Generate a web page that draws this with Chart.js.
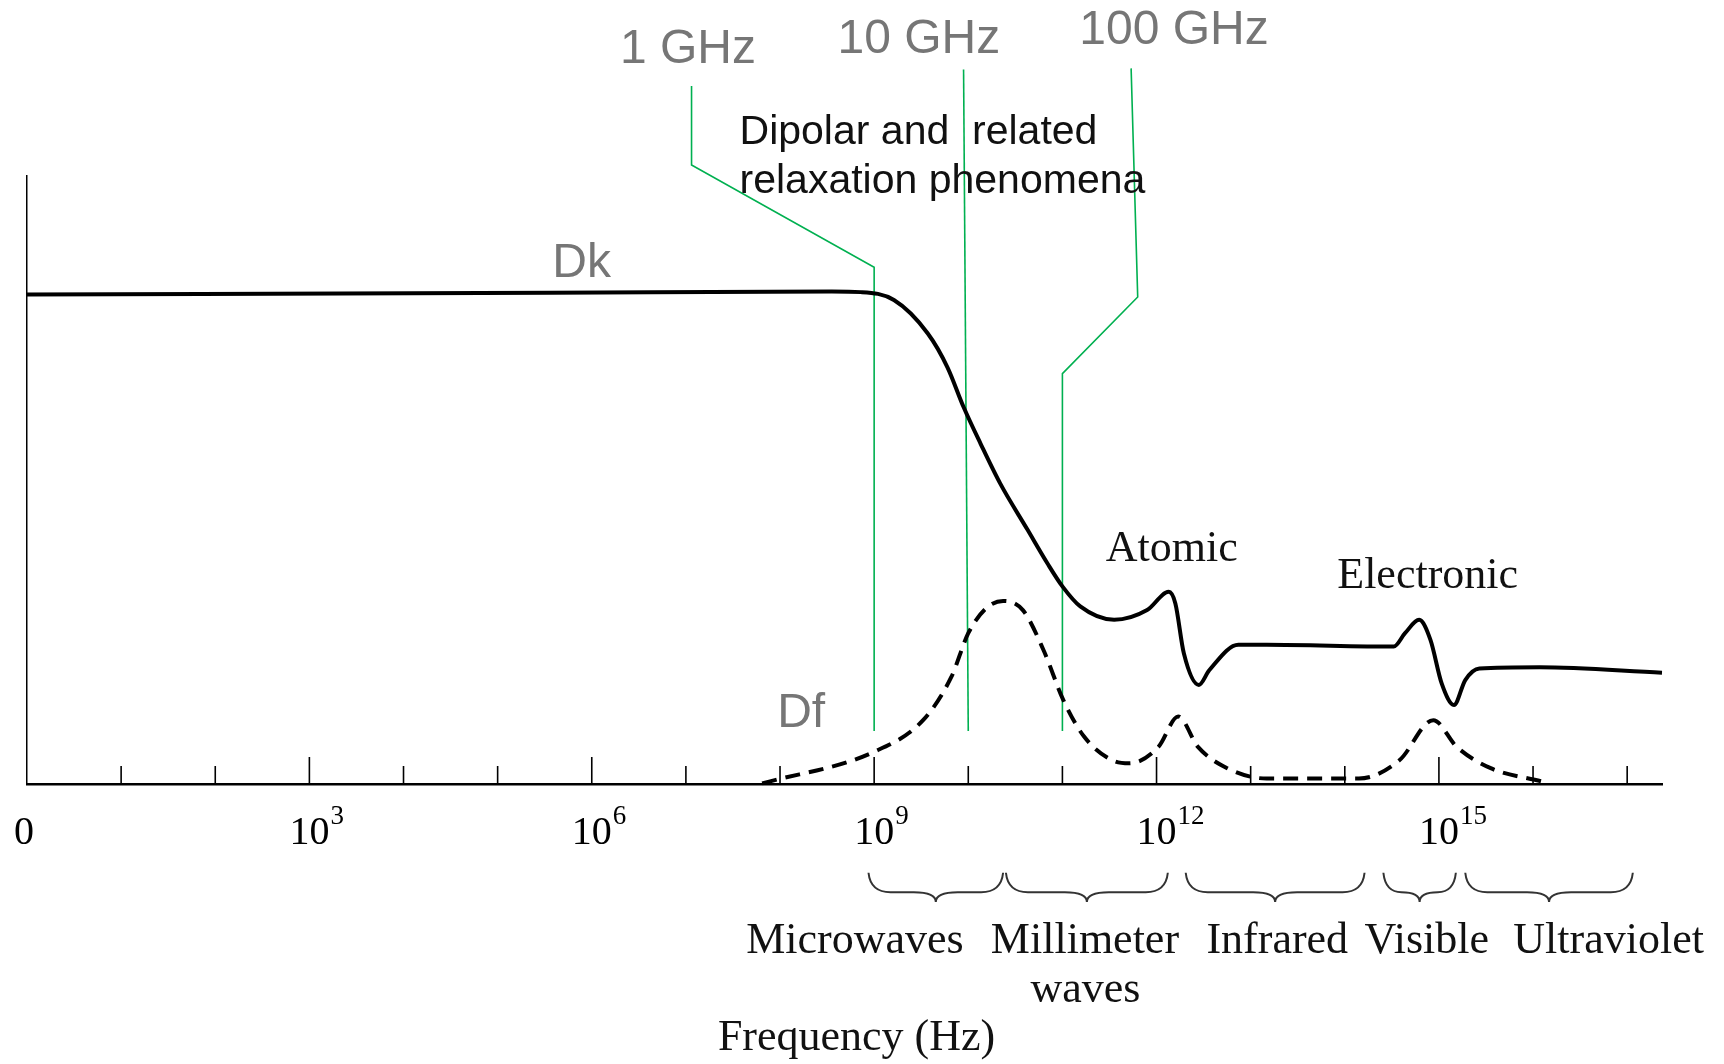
<!DOCTYPE html>
<html>
<head>
<meta charset="utf-8">
<title>Dk / Df versus frequency</title>
<script src="https://cdn.jsdelivr.net/npm/chart.js@4.4.1/dist/chart.umd.min.js"></script>
<style>
  html, body { margin: 0; padding: 0; background: #fff; }
  #wrap { width: 1724px; height: 1064px; position: relative; }
</style>
</head>
<body>
<div id="wrap"><canvas id="spectrum"></canvas></div>
<script>
'use strict'
// x values are log10(frequency in Hz), y values are relative (0 = axis)
const dkLogF = [0, 5.56, 8.55, 8.86, 9.21, 9.57, 9.78, 9.95, 10.13, 10.34, 10.63, 10.84, 11.00, 11.19, 11.55, 11.90, 12.13, 12.20, 12.29, 12.45, 12.56, 12.87, 13.17, 14.52, 14.64, 14.79, 14.91, 15.03, 15.16, 15.28, 15.43, 16.07, 17.37];
const dkValue = [80.5, 80.8, 81.0, 80.9, 79.6, 74.1, 68.5, 62.0, 56.0, 49.4, 41.8, 36.3, 32.5, 29.2, 27.0, 28.6, 31.6, 29.7, 21.5, 16.3, 18.7, 22.9, 22.9, 22.6, 24.8, 27.0, 23.7, 16.5, 13.0, 17.1, 19.0, 19.2, 18.3];

const dfLogF = [7.81, 9.00, 9.52, 9.82, 10.00, 10.19, 10.37, 10.58, 10.80, 11.01, 11.23, 11.53, 11.71, 12.02, 12.23, 12.44, 12.75, 13.17, 14.15, 14.58, 14.94, 15.19, 15.55, 16.10];
const dfValue = [0.1, 5.3, 10.5, 17.6, 24.8, 28.9, 30.1, 28.6, 22.0, 13.8, 7.8, 3.9, 3.4, 6.1, 11.1, 6.1, 2.6, 0.9, 0.9, 3.9, 10.5, 6.1, 2.6, 0.4];

const tickExponents = [0, 3, 6, 9, 12, 15];
const markerLabels = ['1 GHz', '10 GHz', '100 GHz'];
const markerLogF = [9, 10, 11];

const bandNames = ['Microwaves', 'Millimeter', 'Infrared', 'Visible', 'Ultraviolet'];
const bandFrom = [8.94, 10.40, 12.31, 14.41, 15.28];
const bandTo = [10.37, 12.12, 14.21, 15.18, 17.06];

const toPoints = (xs, ys) => xs.map((x, i) => ({ x: x, y: ys[i] }));

const GREEN = '#00b050';
const GREY = '#767676';
const SERIF = '"Liberation Serif", "Times New Roman", serif';
const SANS = '"Liberation Sans", Arial, sans-serif';

// leader lines from the GHz labels down to the frequency (top parts in chart units)
const leaderTops = [
  [[7.06, 114.8], [7.06, 101.8], [9.0, 85.0]],
  [[9.95, 117.5]],
  [[11.73, 117.7], [11.80, 80.1], [11.0, 67.5]]
];
const leaderBottom = 8.7;

const extras = {
  id: 'extras',
  beforeDatasetsDraw(chart) {
    const ctx = chart.ctx, xs = chart.scales.x, ys = chart.scales.y;
    const X = v => xs.getPixelForValue(v), Y = v => ys.getPixelForValue(v);
    ctx.save();
    // green frequency markers
    ctx.strokeStyle = GREEN;
    ctx.lineWidth = 1.6;
    markerLogF.forEach((f, i) => {
      ctx.beginPath();
      leaderTops[i].forEach((p, j) => j ? ctx.lineTo(X(p[0]), Y(p[1])) : ctx.moveTo(X(p[0]), Y(p[1])));
      ctx.lineTo(X(f), Y(leaderBottom));
      ctx.stroke();
    });
    ctx.restore();
  },
  afterDraw(chart) {
    const ctx = chart.ctx, xs = chart.scales.x, ys = chart.scales.y;
    const X = v => xs.getPixelForValue(v), Y = v => ys.getPixelForValue(v);
    const base = ys.getPixelForValue(0);
    ctx.save();

    // decade tick marks pointing up from the axis
    ctx.strokeStyle = '#000';
    ctx.lineWidth = 1.6;
    for (let d = 1; d <= Math.floor(xs.max); d++) {
      const len = d % 3 === 0 ? 27 : 18;
      ctx.beginPath();
      ctx.moveTo(X(d), base);
      ctx.lineTo(X(d), base - len);
      ctx.stroke();
    }

    // tick labels 0, 10^3 ...
    ctx.fillStyle = '#000';
    ctx.textBaseline = 'alphabetic';
    tickExponents.forEach(e => {
      const x = X(e);
      ctx.font = '40px ' + SERIF;
      if (e === 0) {
        ctx.textAlign = 'center';
        ctx.fillText('0', x - 3, base + 60);
        return;
      }
      const w = ctx.measureText('10').width;
      ctx.textAlign = 'left';
      ctx.fillText('10', x - w / 2, base + 60);
      ctx.font = '27px ' + SERIF;
      ctx.fillText(String(e), x + w / 2 + 1, base + 40);
    });

    const text = (s, d, v, font, color) => {
      ctx.font = font;
      ctx.fillStyle = color;
      ctx.textAlign = 'left';
      ctx.fillText(s, X(d), Y(v));
    };

    // GHz labels
    text(markerLabels[0], 6.30, 118.6, '48px ' + SANS, GREY);
    text(markerLabels[1], 8.61, 120.2, '48px ' + SANS, GREY);
    text(markerLabels[2], 11.18, 121.7, '48px ' + SANS, GREY);

    text('Dipolar and  related', 7.57, 105.3, '41px ' + SANS, '#111');
    text('relaxation phenomena', 7.57, 97.2, '41px ' + SANS, '#111');

    text('Dk', 5.58, 83.4, '48px ' + SANS, GREY);
    text('Df', 7.97, 9.4, '48px ' + SANS, GREY);

    text('Atomic', 11.46, 36.7, '44px ' + SERIF, '#111');
    text('Electronic', 13.92, 32.2, '44px ' + SERIF, '#111');

    // spectrum band braces
    ctx.strokeStyle = '#333';
    ctx.lineWidth = 2;
    const yTop = Y(-14.6), yFlat = Y(-17.8), yTip = Y(-19.4);
    bandNames.forEach((name, i) => {
      const x1 = X(bandFrom[i]), x2 = X(bandTo[i]), mid = (x1 + x2) / 2;
      const r = Math.min(22, (x2 - x1) / 4);
      ctx.beginPath();
      ctx.moveTo(x1, yTop);
      ctx.quadraticCurveTo(x1 + 2, yFlat, x1 + r, yFlat);
      ctx.lineTo(mid - r, yFlat);
      ctx.quadraticCurveTo(mid, yFlat, mid, yTip);
      ctx.quadraticCurveTo(mid, yFlat, mid + r, yFlat);
      ctx.lineTo(x2 - r, yFlat);
      ctx.quadraticCurveTo(x2 - 2, yFlat, x2, yTop);
      ctx.stroke();
    });

    const bandLabelX = [7.64, 10.24, 12.53, 14.21, 15.79];
    bandNames.forEach((name, i) => text(name, bandLabelX[i], -27.8, '44px ' + SERIF, '#111'));
    text('waves', 10.66, -35.9, '44px ' + SERIF, '#111');
    text('Frequency (Hz)', 7.34, -43.75, '44px ' + SERIF, '#111');

    ctx.restore();
  }
};

const ctx = document.getElementById('spectrum').getContext('2d');
const chart = new Chart(ctx, {
  type: 'scatter',
  data: {
    datasets: [{
      label: 'Dk',
      data: toPoints(dkLogF, dkValue),
      showLine: true,
      borderColor: '#000',
      borderWidth: 4,
      pointRadius: 0,
      cubicInterpolationMode: 'monotone',
      clip: false
    }, {
      label: 'Df',
      data: toPoints(dfLogF, dfValue),
      showLine: true,
      borderColor: '#000',
      borderWidth: 4,
      borderDash: [15, 9],
      pointRadius: 0,
      cubicInterpolationMode: 'monotone',
      clip: false
    }]
  },
  options: {
    responsive: true,
    maintainAspectRatio: false,
    animation: false,
    layout: { padding: { left: 27, top: 176, right: 62, bottom: 280 } },
    plugins: {
      legend: { display: false },
      tooltip: { enabled: false }
    },
    scales: {
      x: {
        type: 'linear',
        min: 0,
        max: 17.37,
        grid: { display: false, drawTicks: false },
        ticks: { display: false },
        border: { display: true, color: '#000', width: 2.5 }
      },
      y: {
        type: 'linear',
        min: 0,
        max: 100,
        grid: { display: false, drawTicks: false },
        ticks: { display: false },
        border: { display: true, color: '#000', width: 1.5 }
      }
    }
  },
  plugins: [extras]
});
</script>
</body>
</html>
